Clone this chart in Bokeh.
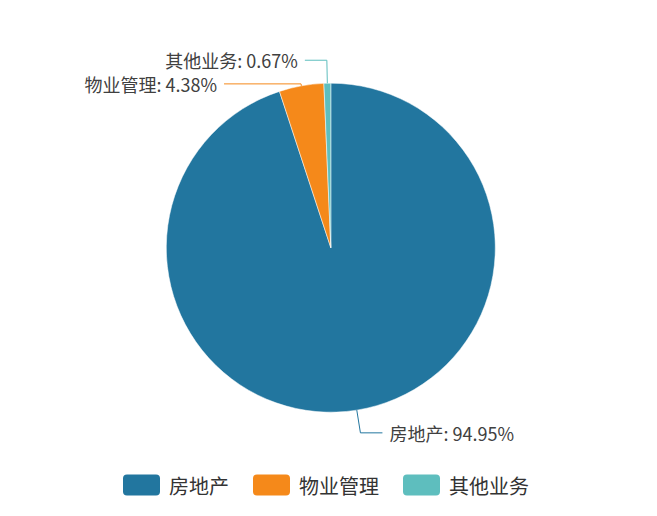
import math
from bokeh.plotting import figure
from bokeh.models import Range1d, ColumnDataSource, Rect
from bokeh.embed import file_html
from bokeh.resources import INLINE
from bokeh.core.properties import value

# ---- data ----
categories = ["房地产", "物业管理", "其他业务"]
shares = [94.95, 4.38, 0.67]
colors = ["#22769f", "#f5891a", "#5ebebe"]

# ---- layout ----
W, H = 641, 500
FONT = "Noto Sans CJK SC"
p = figure(width=W, height=H, x_range=Range1d(0, W), y_range=Range1d(0, H),
           output_backend="svg", toolbar_location=None, min_border=0)
p.axis.visible = False
p.grid.visible = False
p.outline_line_color = None
p.background_fill_color = "white"
p.border_fill_color = "white"

def Y(page_y):
    return H - page_y

cx, cy, r = 330.3, Y(247.2), 164.5
total = sum(shares)
cum = 0.0
starts, ends, mids = [], [], []
for s in shares:
    a0 = cum / total * 2 * math.pi
    cum += s
    a1 = cum / total * 2 * math.pi
    starts.append(math.pi / 2 - a1)
    ends.append(math.pi / 2 - a0)
    mids.append((a0 + a1) / 2)

src = ColumnDataSource(dict(start=starts, end=ends, color=colors))
p.wedge(x=cx, y=cy, radius=r, start_angle="start", end_angle="end",
        fill_color="color", line_color="white", line_width=0.5, source=src)

# ---- labels with leader lines ----
ext = [23, 2, 23]      # radial extension of first leader segment
horiz = [22, 77, 22]   # horizontal segment length
gap = 7
xs, ys, tx, ty, ta, texts = [], [], [], [], [], []
for i, m in enumerate(mids):
    sx, sy = math.sin(m), math.cos(m)
    ex, ey = cx + r * sx, cy + r * sy
    bx, by = cx + (r + ext[i]) * sx, cy + (r + ext[i]) * sy
    d = 1 if sx > 0 else -1
    hx = bx + d * horiz[i]
    xs.append([ex, bx, hx])
    ys.append([ey, by, by])
    tx.append(hx + d * gap)
    ty.append(by)
    ta.append("left" if d > 0 else "right")
    texts.append(f"{categories[i]}: {shares[i]:.2f}%")

p.multi_line(xs=xs, ys=ys, line_color=colors, line_width=1)
p.text(x=tx, y=ty, text=texts, text_align=ta, text_baseline="middle",
       text_font=value(FONT), text_font_size="18px", text_color="#404040")

# ---- legend ----
sw_w, sw_h, standoff, item_gap, lfs = 37, 21, 9, 24, 20
widths = [sw_w + standoff + lfs * len(c) for c in categories]
tot = sum(widths) + item_gap * (len(widths) - 1)
x0 = 325.5 - tot / 2
ly = Y(484.5)
rx, lx = [], []
for w in widths:
    rx.append(x0 + sw_w / 2)
    lx.append(x0 + sw_w + standoff)
    x0 += w + item_gap
rect_kw = {}
if "border_radius" in Rect.properties():
    rect_kw["border_radius"] = 4
p.rect(x=rx, y=[ly] * 3, width=sw_w, height=sw_h, fill_color=colors,
       line_color=None, **rect_kw)
p.text(x=lx, y=[ly] * 3, text=categories, text_align="left", text_baseline="middle",
       text_font=value(FONT), text_font_size=f"{lfs}px", text_color="#333333")

open("out.html", "w").write(file_html(p, INLINE))
